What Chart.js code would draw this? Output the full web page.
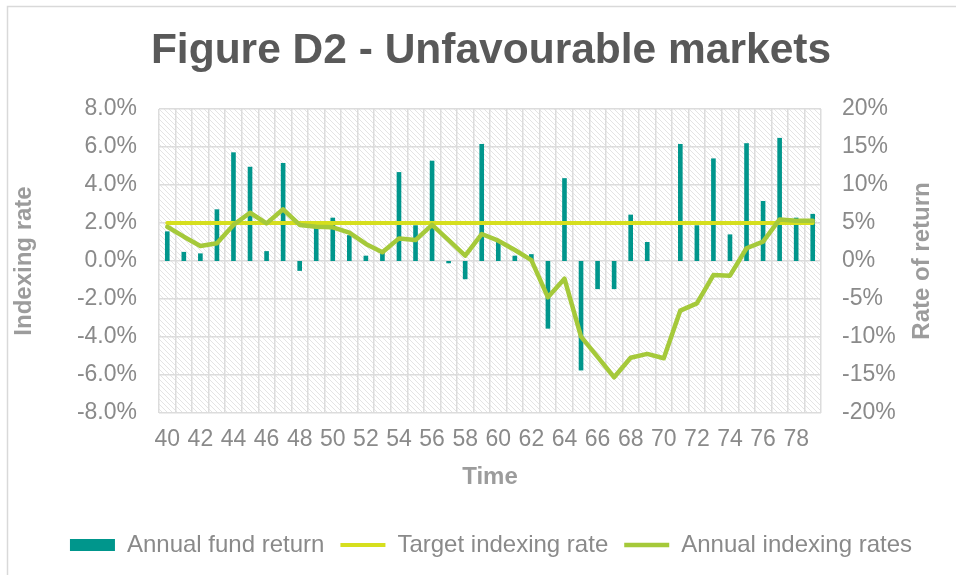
<!DOCTYPE html>
<html>
<head>
<meta charset="utf-8">
<title>Figure D2 - Unfavourable markets</title>
<script src="https://cdn.jsdelivr.net/npm/chart.js@4/dist/chart.umd.min.js"></script>
<style>
    body { margin: 0; background: #fff; }
    .chart-box { width: 956px; height: 575px; }
</style>
</head>
<body>
<div class="chart-box"><canvas id="chartD2" width="956" height="575"></canvas></div>
<script>
// Data
const timeLabels = ["40", "41", "42", "43", "44", "45", "46", "47", "48", "49",
    "50", "51", "52", "53", "54", "55", "56", "57", "58", "59",
    "60", "61", "62", "63", "64", "65", "66", "67", "68", "69",
    "70", "71", "72", "73", "74", "75", "76", "77", "78", "79"];
// right axis, %
const annualFundReturn = [3.9, 1.2, 1.0, 6.8, 14.3, 12.4, 1.3, 12.9, -1.3, 4.5,
    5.7, 3.4, 0.7, 1.1, 11.7, 4.7, 13.2, -0.3, -2.4, 15.4,
    2.5, 0.7, 0.9, -8.9, 10.9, -14.4, -3.7, -3.7, 6.1, 2.5,
    0, 15.4, 4.7, 13.5, 3.5, 15.5, 7.9, 16.2, 5.7, 6.2];
// left axis, %
const targetIndexingRate = [2, 2, 2, 2, 2, 2, 2, 2, 2, 2,
    2, 2, 2, 2, 2, 2, 2, 2, 2, 2,
    2, 2, 2, 2, 2, 2, 2, 2, 2, 2,
    2, 2, 2, 2, 2, 2, 2, 2, 2, 2];
const annualIndexingRates = [1.8, 1.28, 0.79, 0.93, 1.9, 2.54, 1.98, 2.72, 1.9, 1.8,
    1.77, 1.49, 0.9, 0.46, 1.19, 1.1, 1.9, 1.1, 0.28, 1.42,
    1.07, 0.58, 0.05, -1.91, -0.93, -3.98, -5.05, -6.12, -5.09, -4.89,
    -5.12, -2.61, -2.23, -0.74, -0.77, 0.67, 1.02, 2.19, 2.12, 2.12];
const seriesNames = ["Annual fund return", "Target indexing rate", "Annual indexing rates"];

const fontFamily = "'Liberation Sans', Arial, sans-serif";
const gridColor = "#dcdcdc";
const tickColor = "#8a8a8a";
const axisTitleColor = "#9c9c9c";

// hatch tile for the plot area
const makeHatch = () => {
    const tile = document.createElement("canvas");
    tile.width = 5;
    tile.height = 5;
    const tctx = tile.getContext("2d");
    tctx.fillStyle = "#ffffff";
    tctx.fillRect(0, 0, 5, 5);
    tctx.fillStyle = "#e4e4e4";
    for (let i = 0; i < 5; i++) {
        tctx.fillRect(i, i, 1, 1);
    }
    return tctx.createPattern(tile, "repeat");
};

const backgroundPlugin = {
    id: "backgroundPlugin",
    beforeDraw: (chart) => {
        const ctx = chart.ctx;
        const area = chart.chartArea;
        ctx.save();
        ctx.fillStyle = "#ffffff";
        ctx.fillRect(0, 0, chart.width, chart.height);
        // outer frame (top + left only are visible)
        ctx.strokeStyle = "#d9d9d9";
        ctx.lineWidth = 1.5;
        ctx.strokeRect(7.5, 6.5, chart.width + 20, chart.height + 20);
        ctx.fillStyle = makeHatch();
        ctx.fillRect(area.left, area.top, area.right - area.left, area.bottom - area.top);
        ctx.restore();
    }
};

// right axis title reads bottom to top, like the left one
const rightTitlePlugin = {
    id: "rightTitlePlugin",
    afterDraw: (chart) => {
        const ctx = chart.ctx;
        const area = chart.chartArea;
        ctx.save();
        ctx.translate(922, (area.top + area.bottom) / 2);
        ctx.rotate(-Math.PI / 2);
        ctx.font = `bold 24px ${fontFamily}`;
        ctx.fillStyle = axisTitleColor;
        ctx.textAlign = "center";
        ctx.textBaseline = "middle";
        ctx.fillText("Rate of return", 0, 0);
        ctx.restore();
    }
};

// Chart D2
const chartD2 = document.querySelector("#chartD2");
if (chartD2) {
    new Chart(chartD2, {
        type: "bar",
        data: {
            labels: timeLabels,
            datasets: [
                {
                    label: seriesNames[0],
                    data: annualFundReturn,
                    yAxisID: "yRight",
                    backgroundColor: "#00968c",
                    barPercentage: 0.28,
                    categoryPercentage: 1,
                    pointStyle: "rect",
                    order: 2
                },
                {
                    type: "line",
                    label: seriesNames[1],
                    data: targetIndexingRate,
                    yAxisID: "yLeft",
                    borderColor: "#d6df1e",
                    backgroundColor: "#d6df1e",
                    borderWidth: 4,
                    borderCapStyle: "round",
                    pointRadius: 0,
                    pointStyle: "line",
                    order: 1
                },
                {
                    type: "line",
                    label: seriesNames[2],
                    data: annualIndexingRates,
                    yAxisID: "yLeft",
                    borderColor: "#a5c93a",
                    backgroundColor: "#a5c93a",
                    borderWidth: 4.5,
                    borderCapStyle: "round",
                    borderJoinStyle: "round",
                    pointRadius: 0,
                    pointStyle: "line",
                    tension: 0,
                    order: 0
                }
            ]
        },
        options: {
            responsive: false,
            animation: false,
            layout: {
                padding: { left: 26, right: 0, top: 0, bottom: 8 }
            },
            plugins: {
                title: {
                    display: true,
                    text: "Figure D2 - Unfavourable markets",
                    color: "#595959",
                    font: { family: fontFamily, size: 42.5, weight: "bold" },
                    padding: { top: 26, bottom: 32 }
                },
                legend: {
                    position: "bottom",
                    labels: {
                        usePointStyle: true,
                        pointStyleWidth: 45,
                        boxHeight: 12,
                        color: tickColor,
                        padding: 16,
                        font: { family: fontFamily, size: 24 },
                        sort: (a, b) => a.datasetIndex - b.datasetIndex
                    }
                },
                tooltip: { enabled: false }
            },
            scales: {
                x: {
                    afterFit: (scale) => { scale.height = 104; },
                    grid: { color: gridColor, lineWidth: 1.5, drawTicks: false },
                    border: { display: false },
                    ticks: {
                        autoSkip: false,
                        maxRotation: 0,
                        padding: 13,
                        color: tickColor,
                        font: { family: fontFamily, size: 23 },
                        callback: function (value, index) {
                            return index % 2 === 0 ? this.getLabelForValue(value) : "";
                        }
                    },
                    title: {
                        display: true,
                        text: "Time",
                        color: axisTitleColor,
                        font: { family: fontFamily, size: 24, weight: "bold" },
                        padding: { top: 0, bottom: 25 }
                    }
                },
                yLeft: {
                    position: "left",
                    min: -8,
                    max: 8,
                    afterFit: (scale) => { scale.width = 133; },
                    grid: { color: gridColor, lineWidth: 1.5, drawTicks: false },
                    border: { display: false },
                    ticks: {
                        stepSize: 2,
                        padding: 22,
                        color: tickColor,
                        font: { family: fontFamily, size: 23 },
                        callback: (value) => value.toFixed(1) + "%"
                    },
                    title: {
                        display: true,
                        text: "Indexing rate",
                        color: axisTitleColor,
                        font: { family: fontFamily, size: 24, weight: "bold" },
                        padding: { top: -16, bottom: 0 }
                    }
                },
                yRight: {
                    position: "right",
                    min: -20,
                    max: 20,
                    afterFit: (scale) => { scale.width = 135; },
                    grid: { display: false, drawTicks: false },
                    border: { display: false },
                    ticks: {
                        stepSize: 5,
                        padding: 21,
                        color: tickColor,
                        font: { family: fontFamily, size: 23 },
                        callback: (value) => value + "%"
                    }
                }
            }
        },
        plugins: [backgroundPlugin, rightTitlePlugin]
    });
}
// End Chart D2
</script>
</body>
</html>
